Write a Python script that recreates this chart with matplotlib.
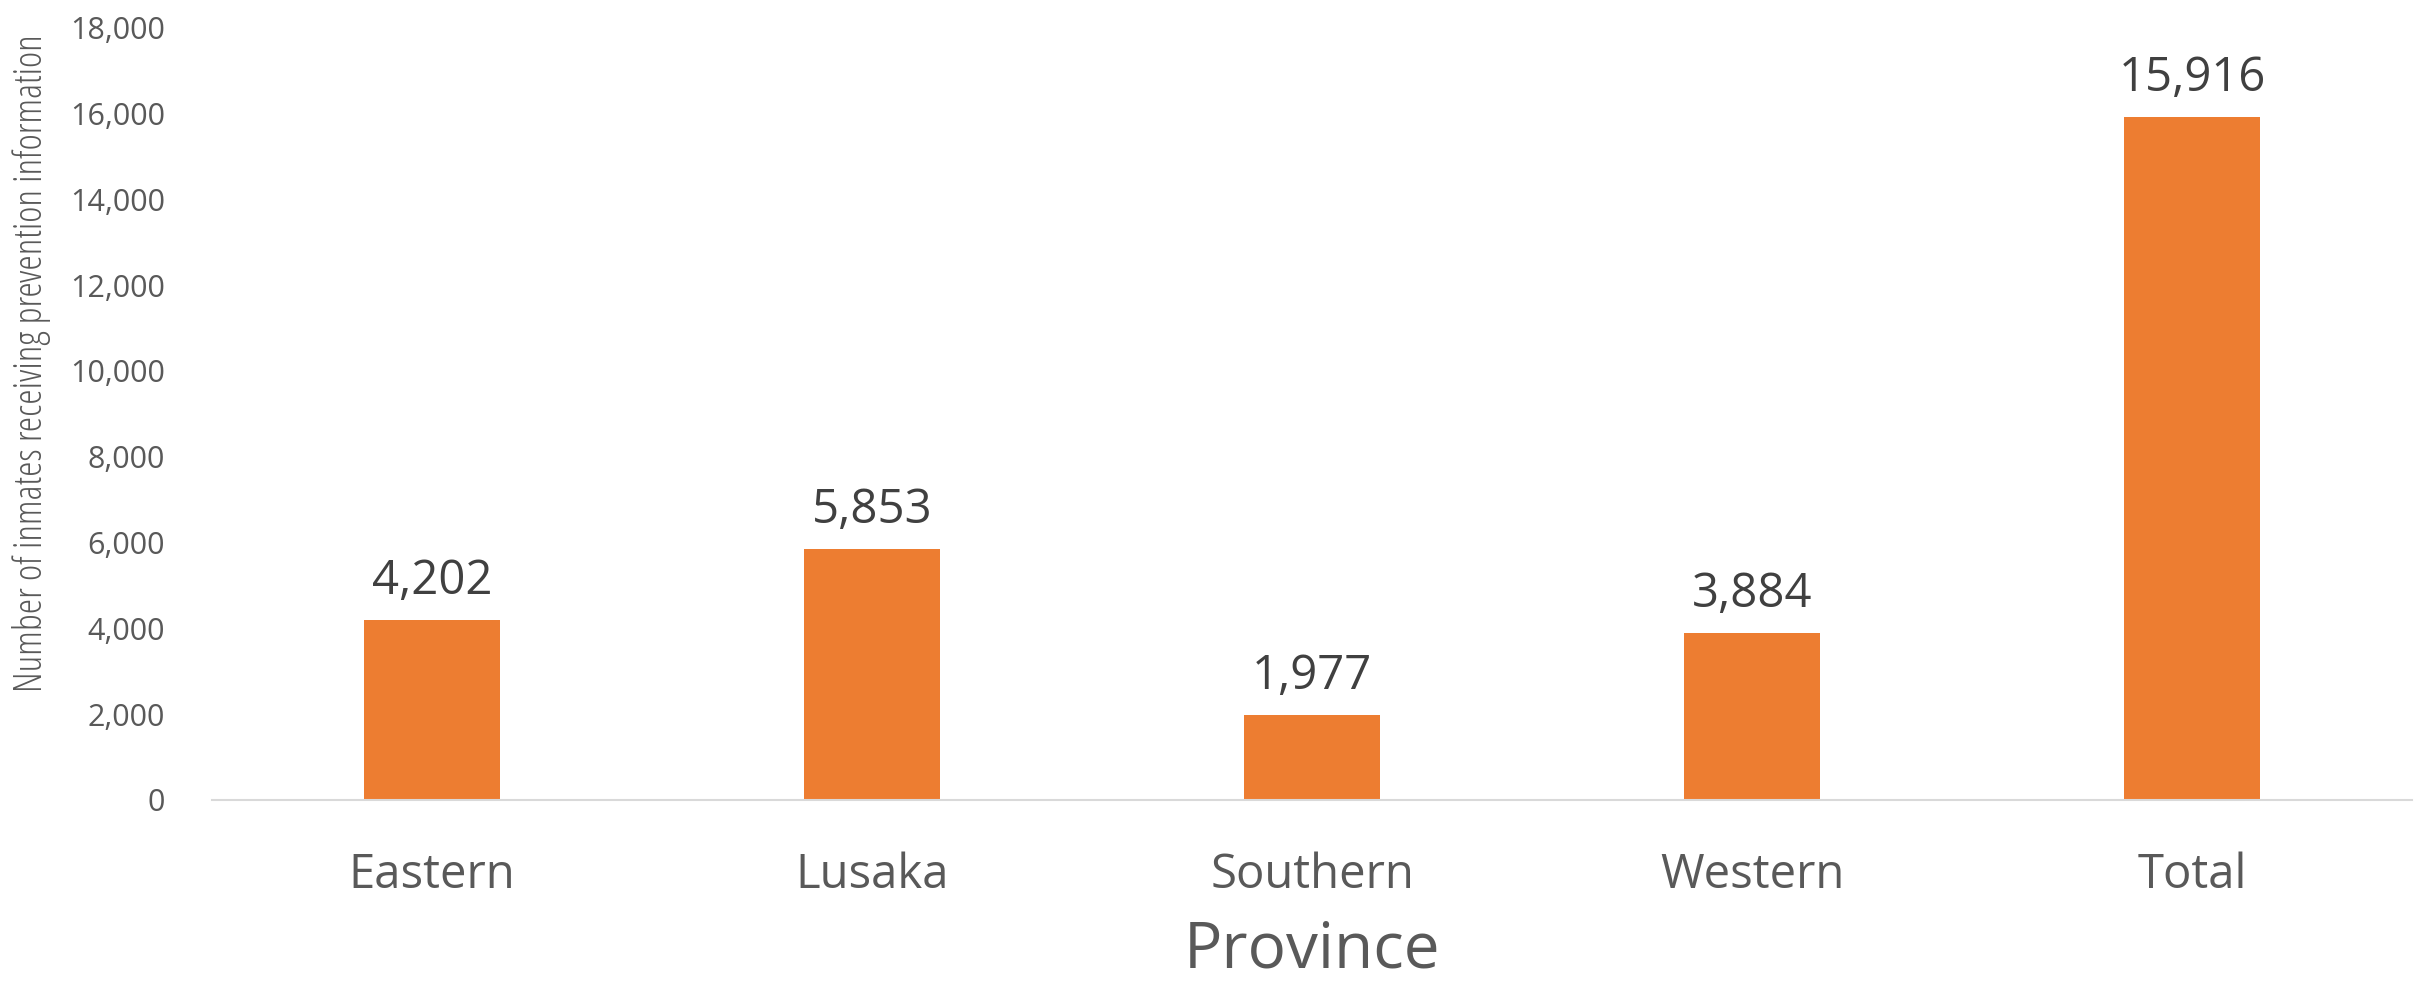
import matplotlib.pyplot as plt
from matplotlib.ticker import FuncFormatter

provinces = ['Eastern', 'Lusaka', 'Southern', 'Western', 'Total']
inmates = [4202, 5853, 1977, 3884, 15916]

plt.rcParams['font.family'] = ['Open Sans', 'DejaVu Sans']

fig = plt.figure(figsize=(24.22, 9.84), dpi=100)
ax = fig.add_axes([0.0875, 0.187, 0.9085, 0.785])

bars = ax.bar(provinces, inmates, width=0.31, color='#ED7D31')
for b, v in zip(bars, inmates):
    ax.text(b.get_x() + b.get_width() / 2, v + 350, f'{v:,}',
            ha='center', va='bottom', fontsize=34, color='#404040')

ax.set_xlim(-0.5, 4.5)
ax.set_ylim(0, 18000)
ax.set_yticks(range(0, 18001, 2000))
ax.yaxis.set_major_formatter(FuncFormatter(lambda x, p: f'{int(x):,}'))
ax.tick_params(axis='y', length=0, labelsize=22, labelcolor='#595959', pad=34)
ax.tick_params(axis='x', length=0, labelsize=34, labelcolor='#595959', pad=37)

for s in ['top', 'right', 'left']:
    ax.spines[s].set_visible(False)
ax.spines['bottom'].set_color('#D9D9D9')
ax.spines['bottom'].set_linewidth(1.5)

ax.set_xlabel('Province', fontsize=46, color='#595959', labelpad=14)
ax.set_ylabel('Number of inmates receiving prevention information',
              fontsize=28, color='#595959', fontstretch='condensed')
ax.yaxis.set_label_coords(-0.073, 0.566)

plt.savefig('out.png', dpi=100)
